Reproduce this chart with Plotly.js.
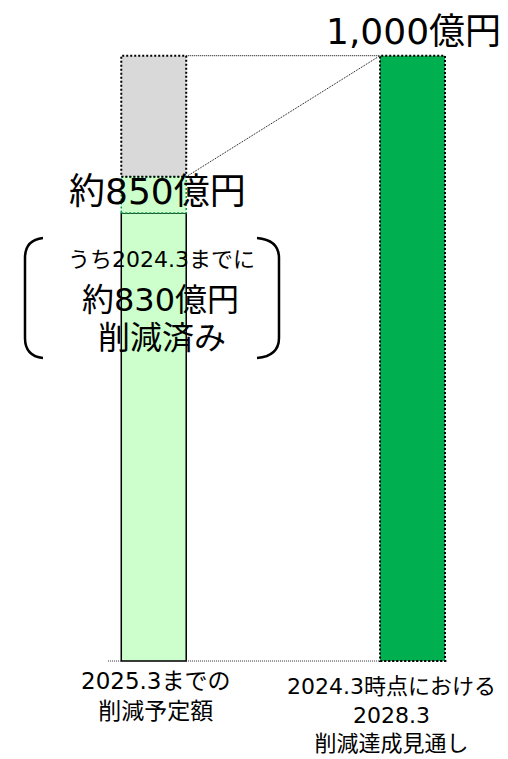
<!DOCTYPE html>
<html>
<head>
<meta charset="utf-8">
<script src="https://cdn.plot.ly/plotly-3.0.1.min.js"></script>
<style>html,body{margin:0;padding:0;background:#fff;}#chart{width:508px;height:759px;}</style>
</head>
<body>
<div id="chart"></div>
<script>
// ---- data (heights as drawn in the picture, schematic) ----
const categories = ['2025.3までの<br>削減予定額', '2024.3時点における<br>2028.3<br>削減達成見通し'];
const segmentCategory = [0, 0, 0, 1];
const segmentHeights = [740, 60, 200, 1000];   // drawn heights: achieved, planned extra, gap, outlook
const topLabel = '1,000億円';
const plannedLabel = '約850億円';
const achievedLabel = ['うち2024.3までに', '約830億円', '削減済み'];

// ---- styles ----
const FONT = '"DejaVu Sans", "Noto Sans CJK JP", sans-serif';
const segFill = ['#ccffcc', '#ccffcc', '#d9d9d9', '#00b050'];
const BW = 0.251;
const W = 508, H = 759;

// stacked bases
const bases = [];
const acc = {};
segmentHeights.forEach((h, i) => {
  const c = segmentCategory[i];
  bases.push(acc[c] || 0);
  acc[c] = (acc[c] || 0) + h;
});

const traces = segmentHeights.map((h, i) => ({
  type: 'bar',
  x: [segmentCategory[i]],
  y: [h],
  base: [bases[i]],
  width: BW,
  marker: {color: segFill[i], line: {color: '#000', width: i === 0 ? 1.5 : 0}},
  hoverinfo: 'skip',
  showlegend: false
}));

const shapes = [];
function rectFor(i, color, dash, width) {
  const c = segmentCategory[i];
  shapes.push({type: 'rect', xref: 'x', yref: 'y',
    x0: c - BW / 2, x1: c + BW / 2, y0: bases[i], y1: bases[i] + segmentHeights[i],
    line: {color: color, width: width, dash: dash}, fillcolor: 'rgba(0,0,0,0)'});
}
rectFor(1, '#00a040', '2px,2px', 1.5);
rectFor(2, '#000', '2px,2px', 2);
rectFor(3, '#000', '2px,2px', 2);

const top0 = bases[2] + segmentHeights[2];
const plannedTop = bases[1] + segmentHeights[1];
const top1 = bases[3] + segmentHeights[3];
// connector lines
shapes.push({type: 'line', xref: 'x', yref: 'y', x0: 0 + BW / 2, x1: 1 - BW / 2, y0: top0, y1: top1,
  line: {color: '#000', width: 1, dash: '1px,1px'}});
shapes.push({type: 'line', xref: 'x', yref: 'y', x0: 0 + BW / 2, x1: 1 - BW / 2, y0: plannedTop, y1: top1,
  line: {color: '#000', width: 1, dash: '1px,1px'}});
// baseline
shapes.push({type: 'line', xref: 'x', yref: 'y', x0: -0.177, x1: 1.137, y0: 0, y1: 0,
  line: {color: '#333', width: 1, dash: '1px,1px'}});

// brackets (pixel -> paper)
const px = x => (x / W).toFixed(4);
const py = y => (1 - y / H).toFixed(4);
function bracket(xEnd, xV, yTop, yBot) {
  return `M ${px(xEnd)} ${py(yTop)} Q ${px(xV)} ${py(yTop + 2)} ${px(xV)} ${py(yTop + 20)} ` +
         `L ${px(xV)} ${py(yBot - 20)} Q ${px(xV)} ${py(yBot - 2)} ${px(xEnd)} ${py(yBot)}`;
}
shapes.push({type: 'path', xref: 'paper', yref: 'paper', path: bracket(43, 25, 238, 358), line: {color: '#000', width: 2.5}});
shapes.push({type: 'path', xref: 'paper', yref: 'paper', path: bracket(257, 279, 238, 358), line: {color: '#000', width: 2.5}});

const ann = (x, y, text, size, extra) => Object.assign({
  xref: 'x', yref: 'y', x: x, y: y, text: text, showarrow: false,
  xanchor: 'center', yanchor: 'middle', font: {family: FONT, size: size, color: '#000'}
}, extra || {});

const annotations = [
  ann(1.004, 1040, topLabel, 36),
  ann(0.013, 775, plannedLabel, 36),
  ann(0.03, 663, achievedLabel[0], 22),
  ann(0.025, 596, achievedLabel[1], 32),
  ann(0.032, 533, achievedLabel[2], 32),
  ann(0.006, -57, categories[0], 23),
  ann(0.917, -89, categories[1], 22)
];

const layout = {
  width: W, height: H, autosize: false,
  margin: {l: 0, r: 0, t: 0, b: 0, pad: 0},
  paper_bgcolor: '#fff', plot_bgcolor: '#fff',
  barmode: 'overlay',
  xaxis: {range: [-0.5942, 1.3691], visible: false, fixedrange: true},
  yaxis: {range: [-161.9, 1092.0], visible: false, fixedrange: true},
  shapes: shapes,
  annotations: annotations,
  showlegend: false
};

Plotly.newPlot('chart', traces, layout, {staticPlot: true, displayModeBar: false});
</script>
</body>
</html>
